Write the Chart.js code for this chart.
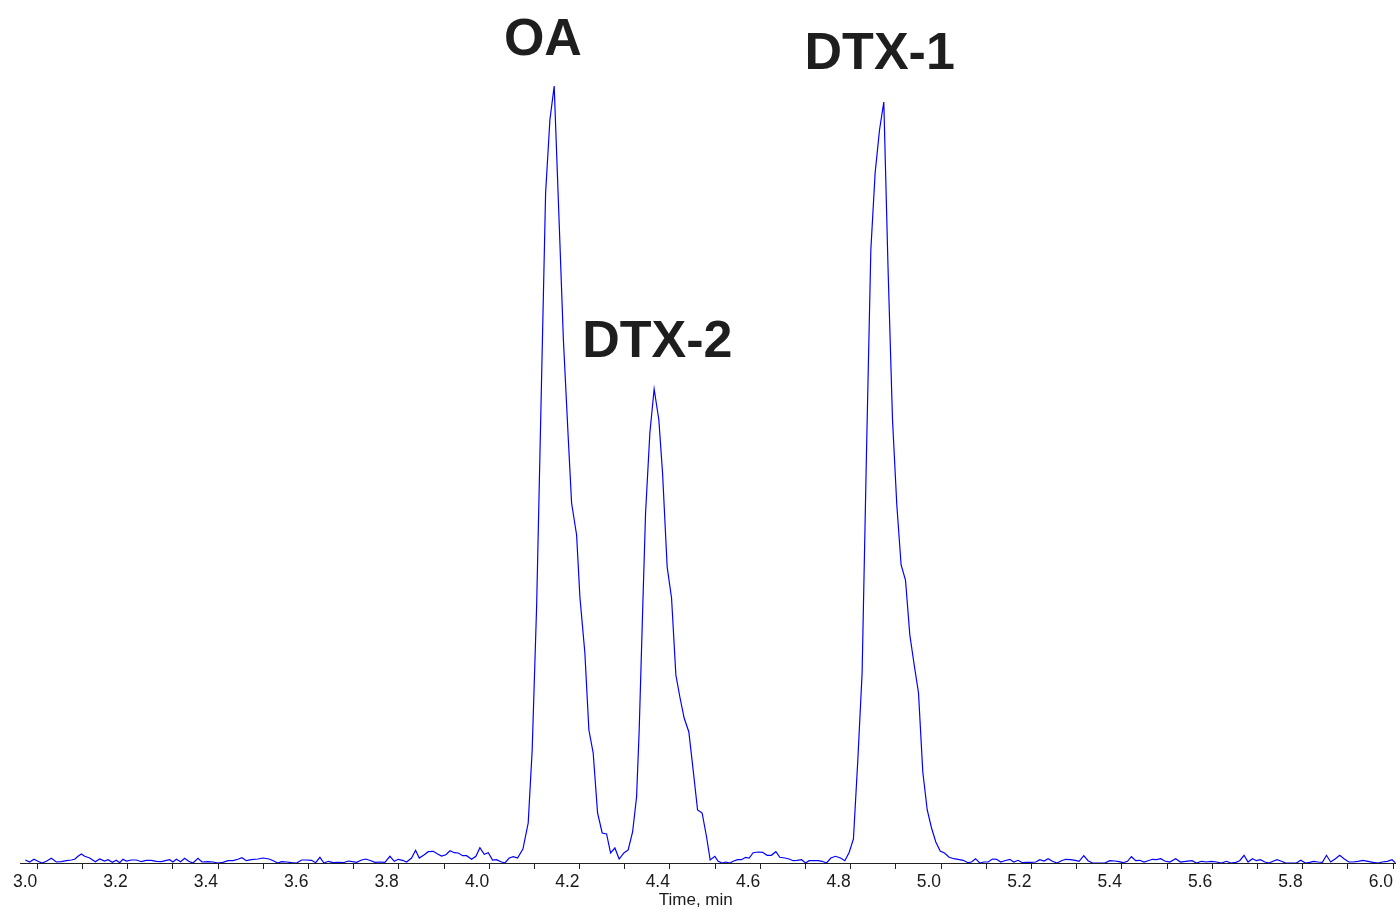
<!DOCTYPE html>
<html>
<head>
<meta charset="utf-8">
<title>Chromatogram</title>
<script src="https://cdn.jsdelivr.net/npm/chart.js@4.4.1/dist/chart.umd.min.js"></script>
<style>
  html, body { margin: 0; padding: 0; background: #fff; }
  #wrap { width: 1396px; height: 909px; }
</style>
</head>
<body>
<div id="wrap"><canvas id="chart" width="1396" height="909"></canvas></div>
<script>
// --- Data ----------------------------------------------------------------

// retention time, min
const times = [
  2.9735, 2.9831, 2.9927, 3.0015, 3.0104, 3.0200, 3.0310, 3.0421, 3.0532, 3.0642,
  3.0753, 3.0827, 3.0900, 3.0974, 3.1048, 3.1159, 3.1284, 3.1380, 3.1490, 3.1564,
  3.1660, 3.1748, 3.1822, 3.1896, 3.1970, 3.2080, 3.2191, 3.2302, 3.2412, 3.2523,
  3.2633, 3.2744, 3.2855, 3.2929, 3.3002, 3.3076, 3.3172, 3.3260, 3.3349, 3.3445,
  3.3555, 3.3644, 3.3777, 3.3887, 3.3998, 3.4108, 3.4219, 3.4330, 3.4440, 3.4529,
  3.4625, 3.4735, 3.4883, 3.4993, 3.5126, 3.5222, 3.5318, 3.5406, 3.5517, 3.5628,
  3.5738, 3.5849, 3.5959, 3.6070, 3.6159, 3.6254, 3.6343, 3.6439, 3.6549, 3.6660,
  3.6771, 3.6881, 3.6970, 3.7066, 3.7176, 3.7272, 3.7383, 3.7471, 3.7582, 3.7692,
  3.7803, 3.7899, 3.7987, 3.8083, 3.8172, 3.8282, 3.8371, 3.8452, 3.8563, 3.8651,
  3.8762, 3.8858, 3.8946, 3.9042, 3.9131, 3.9226, 3.9315, 3.9411, 3.9499, 3.9610,
  3.9706, 3.9794, 3.9890, 3.9979, 4.0075, 4.0163, 4.0259, 4.0347, 4.0443, 4.0532,
  4.0627, 4.0746, 4.0863, 4.0951, 4.1049, 4.1144, 4.1248, 4.1343, 4.1438, 4.1542,
  4.1642, 4.1748, 4.1823, 4.1934, 4.2007, 4.2117, 4.2206, 4.2301, 4.2398, 4.2500,
  4.2597, 4.2686, 4.2781, 4.2876, 4.2980, 4.3075, 4.3173, 4.3261, 4.3319, 4.3394,
  4.3460, 4.3555, 4.3650, 4.3754, 4.3836, 4.3938, 4.4035, 4.4131, 4.4219, 4.4314,
  4.4418, 4.4513, 4.4611, 4.4712, 4.4810, 4.4890, 4.4993, 4.5066, 4.5155, 4.5237,
  4.5325, 4.5398, 4.5496, 4.5584, 4.5673, 4.5752, 4.5841, 4.5951, 4.6049, 4.6150,
  4.6243, 4.6343, 4.6431, 4.6542, 4.6637, 4.6726, 4.6814, 4.6912, 4.7000, 4.7080,
  4.7184, 4.7279, 4.7367, 4.7465, 4.7560, 4.7664, 4.7774, 4.7870, 4.7965, 4.8060,
  4.8157, 4.8252, 4.8350, 4.8445, 4.8540, 4.8637, 4.8732, 4.8827, 4.8925, 4.9020,
  4.9115, 4.9212, 4.9308, 4.9405, 4.9500, 4.9595, 4.9693, 4.9788, 4.9883, 4.9980,
  5.0075, 5.0177, 5.0281, 5.0376, 5.0487, 5.0597, 5.0673, 5.0761, 5.0856, 5.0945,
  5.1040, 5.1137, 5.1226, 5.1321, 5.1409, 5.1520, 5.1608, 5.1704, 5.1801, 5.1889,
  5.1984, 5.2095, 5.2184, 5.2279, 5.2367, 5.2465, 5.2566, 5.2664, 5.2759, 5.2863,
  5.2973, 5.3053, 5.3157, 5.3252, 5.3350, 5.3460, 5.3622, 5.3732, 5.3843, 5.3938,
  5.4027, 5.4124, 5.4212, 5.4307, 5.4396, 5.4491, 5.4580, 5.4677, 5.4765, 5.4861,
  5.4949, 5.5060, 5.5192, 5.5296, 5.5414, 5.5553, 5.5650, 5.5761, 5.5872, 5.5982,
  5.6093, 5.6204, 5.6314, 5.6409, 5.6520, 5.6608, 5.6704, 5.6792, 5.6889, 5.6978,
  5.7066, 5.7162, 5.7257, 5.7345, 5.7434, 5.7531, 5.7626, 5.7863, 5.7958, 5.8062,
  5.8157, 5.8245, 5.8341, 5.8438, 5.8527, 5.8622, 5.8726, 5.8821, 5.8916, 5.9020,
  5.9115, 5.9226, 5.9336, 5.9447, 5.9558, 5.9668, 5.9765, 5.9876, 5.9978, 6.0060
];

// detector signal, arbitrary units
const signal = [
  3, 1, 3.7, 1.7, 0, 1.7, 4.7, 1, 1.3, 2.3,
  3, 3.7, 6.7, 9, 6.7, 5, 1.3, 4, 2, 3.3,
  0.7, 2.7, 0.3, 3.7, 2, 3, 3, 1.3, 2.7, 2.7,
  1.7, 1.3, 2.7, 3.3, 1, 3.7, 1.3, 4.7, 1.7, 0,
  4.7, 1, 1.3, 1, 0, 0.7, 2.3, 2.3, 3.7, 5.3,
  2.3, 3.3, 4, 5, 4, 2.3, 0, 1.3, 1, 0.3,
  0, 3, 3, 2.7, 0.3, 5.7, 0, 1.7, 0.3, 0.7,
  0.3, 2, 1.3, 0.7, 3, 4, 2.3, 0.7, 1, 0.7,
  6.7, 1.7, 3.7, 2.7, 1, 5, 12.7, 5, 8.3, 11.3,
  11.7, 9, 7, 8.3, 12.3, 10.3, 10, 7.3, 7.3, 3.7,
  6.7, 15.3, 8.7, 10.3, 3, 3.3, 1.3, 0, 5, 6.3,
  5, 14, 40, 113, 256, 453, 670, 743, 777, 648,
  523, 426, 360, 328, 266, 210, 133, 110, 50, 30,
  29, 10, 15, 4, 10, 13, 31, 66, 133, 250,
  350, 430, 474, 443, 390, 296, 265, 188, 166, 145,
  131, 93, 53, 50, 26, 3, 6.7, 1.7, 0, 1,
  0, 1.7, 3.3, 3.3, 5.7, 5, 10.3, 11, 10.7, 7.7,
  7.7, 11.3, 5.7, 5, 4, 2.3, 2.7, 3.3, 0, 2.3,
  2.3, 2.3, 1.7, 0, 5, 6.7, 5, 2.3, 10.5, 24,
  103, 190, 413, 613, 690, 733, 761, 593, 443, 358,
  298, 283, 228, 198, 170, 91, 53, 35, 21, 12,
  10, 5.7, 4.3, 3.7, 2.7, 0.3, 1, 4.3, 0, 1,
  1, 4, 3.7, 1, 2.3, 3.7, 1, 2.7, 0.3, 0.7,
  0.7, 1, 3.3, 2, 4.3, 1.7, 0, 2.3, 3.7, 3.3,
  2.7, 1.7, 7.3, 2.3, 0, 0, 0, 2.3, 2, 1.3,
  0.3, 1.7, 6.3, 2.3, 2.7, 1, 2.3, 3.7, 3.3, 4.3,
  2, 1, 4.3, 1, 1.7, 2.3, 0, 1.7, 1, 1.7,
  1, 0, 1.7, 0, 0.7, 2.3, 7.7, 1, 4.3, 2.3,
  3.3, 1, 0, 1.7, 3.3, 1.7, 0, 0, 2.7, 0,
  0.7, 1.7, 1, 0.7, 7.7, 1, 4.3, 7.7, 4.3, 1,
  1, 1.7, 2.7, 1.7, 0.7, 0, 1, 1.7, 3.3, 0
];

const tickTimes = [
  3.0, 3.1, 3.2, 3.3, 3.4, 3.5, 3.6, 3.7, 3.8, 3.9, 4.0,
  4.1, 4.2, 4.3, 4.4, 4.5, 4.6, 4.7, 4.8, 4.9, 5.0,
  5.1, 5.2, 5.3, 5.4, 5.5, 5.6, 5.7, 5.8, 5.9, 6.0
];
const tickLabels = [
  "3.0", "", "3.2", "", "3.4", "", "3.6", "", "3.8", "", "4.0",
  "", "4.2", "", "4.4", "", "4.6", "", "4.8", "", "5.0",
  "", "5.2", "", "5.4", "", "5.6", "", "5.8", "", "6.0"
];

// peak names and where their captions sit (time, signal)
const peakNames = ["OA", "DTX-2", "DTX-1"];
const peakLabelTimes = [4.1188, 4.3721, 4.8641];
const peakLabelSignal = [808, 506, 794];

// axis title sits a little left of the axis centre in the original
const axisTitle = "Time, min";
const axisTitleTime = 4.457;

// --- Chart -----------------------------------------------------------

const FONT = '"Liberation Sans", Arial, Helvetica, sans-serif';

const captions = {
  id: "captions",
  afterDatasetsDraw(chart) {
    const { ctx, scales: { x, y } } = chart;
    ctx.save();
    ctx.fillStyle = "#1e1e1e";
    ctx.textAlign = "center";
    ctx.textBaseline = "alphabetic";
    ctx.font = `bold 52px ${FONT}`;
    peakNames.forEach((name, i) => {
      ctx.fillText(name, x.getPixelForValue(peakLabelTimes[i]), y.getPixelForValue(peakLabelSignal[i]));
    });
    // x-axis title, drawn by hand so it can sit off-centre
    ctx.font = `17px ${FONT}`;
    ctx.fillStyle = "#1a1a1a";
    ctx.fillText(axisTitle, x.getPixelForValue(axisTitleTime), x.bottom - 4);
    ctx.restore();
  },
};

new Chart(document.querySelector("#chart"), {
  type: "line",
  data: {
    datasets: [{
      data: times.map((t, i) => ({ x: t, y: signal[i] })),
      borderColor: "#0000ff",
      borderWidth: 1.2,
      pointRadius: 0,
      tension: 0,
      fill: false,
    }],
  },
  options: {
    responsive: false,
    animation: false,
    layout: { padding: { left: 20, right: 0, top: 0, bottom: 0 } },
    plugins: { legend: { display: false }, tooltip: { enabled: false } },
    scales: {
      x: {
        type: "linear",
        min: 2.9617,
        max: 6.0059,
        afterBuildTicks: (s) => { s.ticks = tickTimes.map((v) => ({ value: v })); },
        afterFit: (s) => { s.height = 46; },
        grid: { display: true, drawOnChartArea: false, drawTicks: true, tickLength: 6, color: "#222" },
        border: { display: true, color: "#222", width: 1 },
        ticks: {
          autoSkip: false,
          maxRotation: 0,
          align: "end",
          padding: 3,
          color: "#1a1a1a",
          font: { family: FONT, size: 17.5 },
          callback: (v, i) => tickLabels[i],
        },
      },
      y: { display: false, min: 0, max: 863 },
    },
  },
  plugins: [captions],
});
</script>
</body>
</html>
